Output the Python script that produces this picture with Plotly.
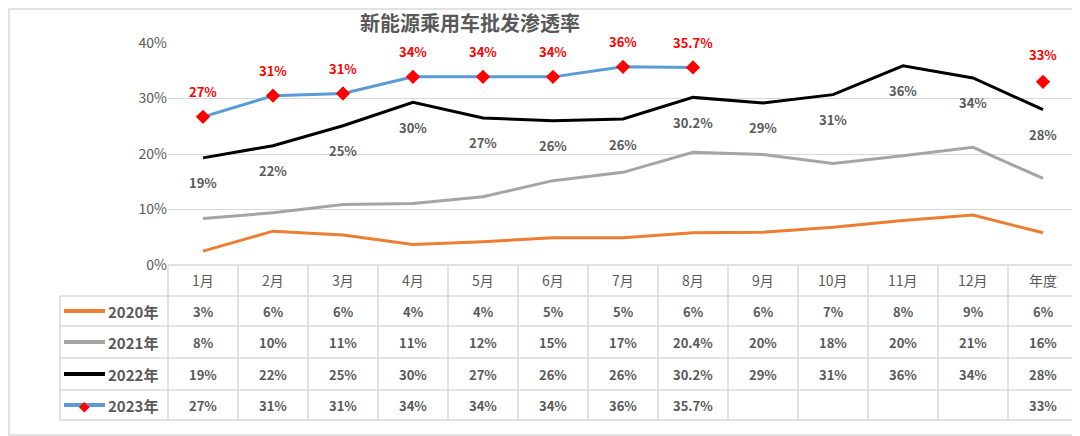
import plotly.graph_objects as go

cats = ["1月","2月","3月","4月","5月","6月","7月","8月","9月","10月","11月","12月","年度"]
s2020 = [2.5,6.1,5.4,3.7,4.2,4.9,4.9,5.8,5.9,6.8,8.0,9.0,5.8]
s2021 = [8.4,9.4,10.9,11.1,12.3,15.2,16.7,20.3,19.9,18.3,19.7,21.2,15.6]
s2022 = [19.3,21.5,25.1,29.3,26.5,26.0,26.3,30.2,29.2,30.7,35.9,33.7,28.0]
s2023 = [26.7,30.5,30.9,33.9,33.9,33.9,35.7,35.6]
y2023_annual = 33.0
t2020 = ["3%","6%","6%","4%","4%","5%","5%","6%","6%","7%","8%","9%","6%"]
t2021 = ["8%","10%","11%","11%","12%","15%","17%","20.4%","20%","18%","20%","21%","16%"]
t2022 = ["19%","22%","25%","30%","27%","26%","26%","30.2%","29%","31%","36%","34%","28%"]
t2023 = ["27%","31%","31%","34%","34%","34%","36%","35.7%","","","","","33%"]
series_names = ["2020年","2021年","2022年","2023年"]
colors = ["#ED7D31","#A5A5A5","#000000","#5B9BD5"]

F = "Noto Sans CJK SC"
GRAY = "#595959"
fig = go.Figure()
xi = list(range(13))
fig.add_trace(go.Scatter(x=xi, y=[v/100 for v in s2020], mode="lines", line=dict(color=colors[0], width=3)))
fig.add_trace(go.Scatter(x=xi, y=[v/100 for v in s2021], mode="lines", line=dict(color=colors[1], width=3)))
fig.add_trace(go.Scatter(x=xi, y=[v/100 for v in s2022], mode="lines", line=dict(color=colors[2], width=3)))
fig.add_trace(go.Scatter(x=xi[:8], y=[v/100 for v in s2023], mode="lines+markers",
                         line=dict(color=colors[3], width=3),
                         marker=dict(symbol="diamond", color="red", size=11)))
fig.add_trace(go.Scatter(x=[12], y=[y2023_annual/100], mode="markers",
                         marker=dict(symbol="diamond", color="red", size=11)))

O = 8  # page body offset
L, R, T, B = 168, 1078, 43, 265
def px(x): return (x - L) / (R - L)
def py(y): return (B - y) / (B - T)

shapes = []
ann = []
def tf(c=GRAY): return dict(family=F, size=13, color=c, weight="bold")

for i, v in enumerate(s2022):
    ann.append(dict(x=i, y=v/100, xref="x", yref="y", text=t2022[i], showarrow=False, yshift=-25,
                    xanchor="center", yanchor="middle", font=tf()))
for i, v in enumerate(s2023):
    ann.append(dict(x=i, y=v/100, xref="x", yref="y", text=t2023[i], showarrow=False, yshift=25,
                    xanchor="center", yanchor="middle", font=tf("red")))
ann.append(dict(x=12, y=y2023_annual/100, xref="x", yref="y", text=t2023[12], showarrow=False, yshift=27,
                xanchor="center", yanchor="middle", font=tf("red")))

lc = "#D9D9D9"
rows = [265, 296, 326, 358, 390, 420]
shapes.append(dict(type="line", xref="paper", yref="paper", x0=px(L), x1=px(R), y0=py(265), y1=py(265), line=dict(color=lc, width=1.5)))
for r in rows[1:]:
    shapes.append(dict(type="line", xref="paper", yref="paper", x0=px(60), x1=px(R), y0=py(r), y1=py(r), line=dict(color=lc, width=1.5)))
shapes.append(dict(type="line", xref="paper", yref="paper", x0=px(60), x1=px(60), y0=py(296), y1=py(420), line=dict(color=lc, width=1.5)))
for i in range(14):
    xx = L + 70 * i
    shapes.append(dict(type="line", xref="paper", yref="paper", x0=px(xx), x1=px(xx), y0=py(265), y1=py(420), line=dict(color=lc, width=1.5)))
shapes.append(dict(type="rect", xref="paper", yref="paper", x0=px(9), x1=px(1079), y0=py(9), y1=py(435), line=dict(color=lc, width=1.5)))

for i, c in enumerate(cats):
    cx = px(L + 35 + 70 * i)
    ann.append(dict(x=cx, y=py(280), xref="paper", yref="paper", text=c, showarrow=False,
                    xanchor="center", yanchor="middle", font=dict(family=F, size=14, color=GRAY)))
    for r, tl in enumerate([t2020, t2021, t2022, t2023]):
        yc = (rows[r + 1] + rows[r + 2]) / 2
        if tl[i]:
            ann.append(dict(x=cx, y=py(yc), xref="paper", yref="paper", text=tl[i], showarrow=False,
                            xanchor="center", yanchor="middle", font=tf()))
for r, nm in enumerate(series_names):
    yc = (rows[r + 1] + rows[r + 2]) / 2
    shapes.append(dict(type="line", xref="paper", yref="paper", x0=px(64), x1=px(105), y0=py(yc), y1=py(yc), line=dict(color=colors[r], width=4)))
    ann.append(dict(x=px(106), y=py(yc), xref="paper", yref="paper", xanchor="left", yanchor="middle",
                    text=nm, showarrow=False, font=dict(family=F, size=15, color=GRAY, weight="bold")))
ann.append(dict(x=px(84.5), y=py(405), xref="paper", yref="paper", text="◆", showarrow=False,
                xanchor="center", yanchor="middle", font=dict(size=14, color="red")))
ann.append(dict(x=px(470), y=py(22), xref="paper", yref="paper", text="新能源乘用车批发渗透率", showarrow=False,
                xanchor="center", yanchor="middle", font=dict(family=F, size=20, color=GRAY, weight="bold")))

fig.update_layout(
    width=1080, height=436, margin=dict(l=L - O, r=1080 - R + O, t=T - O, b=436 - B + O),
    paper_bgcolor="white", plot_bgcolor="white", showlegend=False,
    shapes=shapes, annotations=ann,
    xaxis=dict(range=[-0.5, 12.5], showticklabels=False, showgrid=False, zeroline=False),
    yaxis=dict(range=[0, 0.4], dtick=0.1, tickformat=".0%", showgrid=True, gridcolor=lc, zeroline=False,
               tickfont=dict(family=F, size=14, color=GRAY), ticks="", ticklen=0),
)
fig.write_html("out.html")
